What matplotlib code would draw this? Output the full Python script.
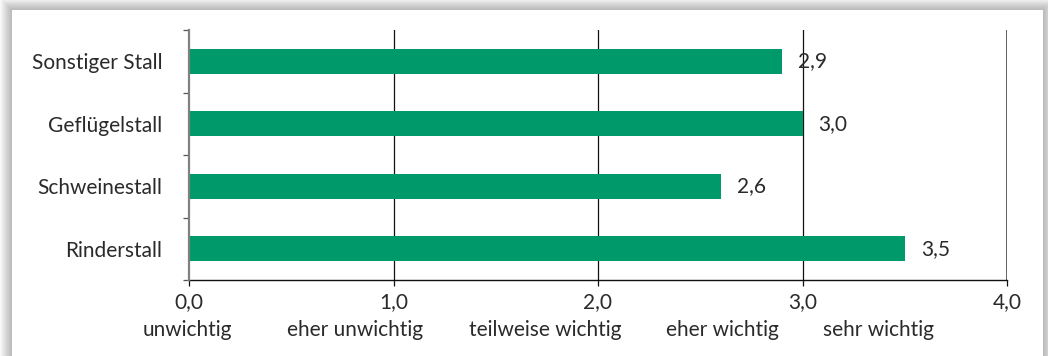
import numpy as np
import matplotlib.pyplot as plt
from matplotlib.patches import Rectangle

stalls = ["Rinderstall", "Schweinestall", "Geflügelstall", "Sonstiger Stall"]
ratings = [3.5, 2.6, 3.0, 2.9]
x_ticks = [0, 1, 2, 3, 4]
scale_labels = ["unwichtig", "eher unwichtig", "teilweise wichtig", "eher wichtig", "sehr wichtig"]
scale_label_x = [-0.01, 0.81, 1.74, 2.61, 3.37]

green = "#009a6a"
txt = "#2a2a2a"
fs = 15
plt.rcParams['font.family'] = ['Lato', 'DejaVu Sans']

W, H = 1048, 356
fig = plt.figure(figsize=(W / 100, H / 100), dpi=100)
fig.patch.set_facecolor("white")

# panel with soft drop shadow behind the chart
bg = fig.add_axes([0, 0, 1, 1])
bg.set_xlim(0, W)
bg.set_ylim(H, 0)
bg.axis("off")
px0, py0, px1, py1 = 12, 10, 1043, H + 20
for i in range(12, 0, -1):
    bg.add_patch(Rectangle((px0 - i, py0 - i), (px1 - px0) + 2 * i, (py1 - py0) + 2 * i,
                           facecolor="black", alpha=0.022, lw=0))
bg.add_patch(Rectangle((px0, py0), px1 - px0, py1 - py0, facecolor="white", lw=0))

ax = fig.add_axes([189 / W, 1 - 280 / H, (1007 - 189) / W, (280 - 30) / H])
ax.patch.set_alpha(0)
y = np.arange(len(stalls))
ax.barh(y, ratings, height=0.4, color=green, zorder=3)

for yi, v in zip(y, ratings):
    ax.annotate(f"{v:.1f}".replace(".", ","), (v, yi), xytext=(11.5, 0),
                textcoords="offset points", va="center", ha="left",
                fontsize=fs, color=txt)

ax.set_xlim(0, 4)
ax.set_ylim(-0.5, len(stalls) - 0.5)

# vertical reference lines
for xv in [1, 2, 3]:
    ax.axvline(xv, color="#111111", lw=0.9, zorder=2)
ax.axvline(4, color="#555555", lw=1.3, zorder=2)

for s in ["top", "right"]:
    ax.spines[s].set_visible(False)
ax.spines["left"].set_color("#808080")
ax.spines["left"].set_linewidth(1.6)
ax.spines["bottom"].set_color("#111111")
ax.spines["bottom"].set_linewidth(1.0)
ax.spines["left"].set_zorder(4)

ax.set_xticks(x_ticks)
ax.set_xticklabels([f"{t:.1f}".replace(".", ",") for t in x_ticks], fontsize=fs, color=txt)
ax.tick_params(axis="x", length=4, width=0.9, color="#111111", pad=5)

ax.set_yticks(y)
ax.set_yticklabels(stalls, fontsize=fs, color=txt)
ax.set_yticks(np.arange(-0.5, len(stalls), 1), minor=True)
ax.tick_params(axis="y", which="major", length=0, pad=19)
ax.tick_params(axis="y", which="minor", length=4, width=0.9, color="#555555")

for lx, lab in zip(scale_label_x, scale_labels):
    ax.text(lx, -0.2, lab, transform=ax.get_xaxis_transform(), ha="center", va="center",
            fontsize=fs, color=txt)

fig.savefig("out.png", dpi=100)
